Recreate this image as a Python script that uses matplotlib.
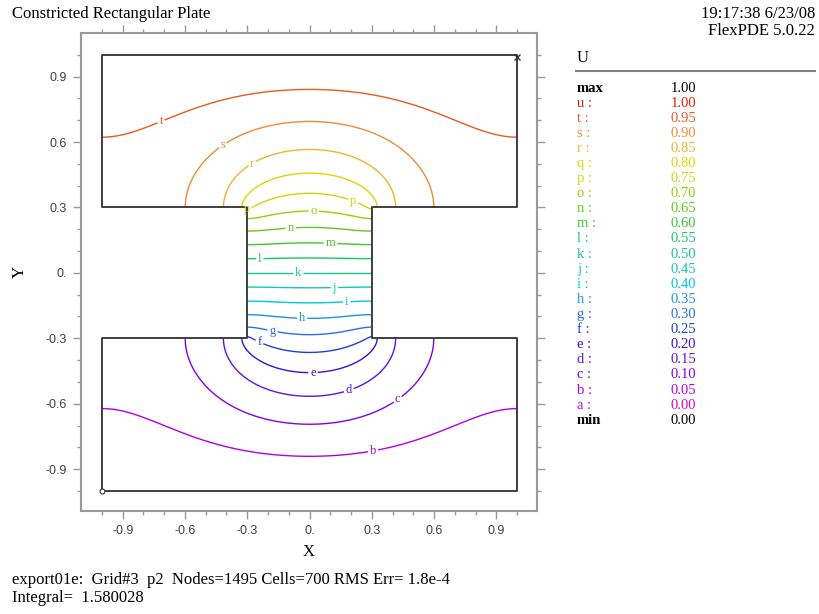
import numpy as np
import matplotlib
matplotlib.use('Agg')
import matplotlib.pyplot as plt
from matplotlib.ticker import FixedLocator, FixedFormatter

plt.rcParams['font.family'] = ['Liberation Serif', 'DejaVu Serif']

# contour table (legend order, top to bottom)
letters = ['u', 't', 's', 'r', 'q', 'p', 'o', 'n', 'm', 'l', 'k',
           'j', 'i', 'h', 'g', 'f', 'e', 'd', 'c', 'b', 'a']
values = [1.00, 0.95, 0.90, 0.85, 0.80, 0.75, 0.70, 0.65, 0.60, 0.55, 0.50,
          0.45, 0.40, 0.35, 0.30, 0.25, 0.20, 0.15, 0.10, 0.05, 0.00]
colors = ['#e61e00', '#eb5a1e', '#f08c32', '#f0b428', '#e6d200', '#c8dc00',
          '#96d200', '#64c81e', '#3cc832', '#14c864', '#14c88c',
          '#14c8b4', '#00c8dc', '#1496e6', '#286ef0', '#1e3ce6',
          '#3214dc', '#5a14e6', '#8200e6', '#b400e6', '#dc00dc']
u_max = 1.00
u_min = 0.00

# geometry: outer plate with a constricted neck
neck_half = 0.3
outline_x = [-1, 1, 1, 0.3, 0.3, 1, 1, -1, -1, -0.3, -0.3, -1, -1]
outline_y = [-1, -1, -0.3, -0.3, 0.3, 0.3, 1, 1, 0.3, 0.3, -0.3, -0.3, -1]
top_value = 1.0
bottom_value = 0.0

# where the letters sit on the contours
label_pos = {
    't': (-0.71, 0.683), 's': (-0.417, 0.583), 'r': (-0.272, 0.495),
    'q': (-0.31, 0.30), 'p': (0.205, 0.317), 'o': (0.02, 0.275),
    'n': (-0.09, 0.197), 'm': (0.10, 0.128), 'l': (-0.24, 0.064),
    'k': (-0.055, -0.005), 'j': (0.12, -0.078), 'i': (0.18, -0.138),
    'h': (-0.036, -0.216), 'g': (-0.18, -0.275), 'f': (-0.243, -0.32),
    'e': (0.017, -0.463), 'd': (0.19, -0.54), 'c': (0.427, -0.583),
    'b': (0.306, -0.817),
}

# solve Laplace(U)=0, U=1 on top, U=0 on bottom, natural BC elsewhere
n = 201
xs = np.linspace(-1, 1, n)
X, Y = np.meshgrid(xs, xs)


def in_domain(x, y):
    return (np.abs(y) >= neck_half - 1e-9) | (np.abs(x) <= neck_half + 1e-9)


node_in = in_domain(X, Y)
xc = 0.5 * (xs[:-1] + xs[1:])
XC, YC = np.meshgrid(xc, xc)
Cp = np.pad(in_domain(XC, YC).astype(float), 1)
WH = 0.5 * (Cp[:-1, 1:-1] + Cp[1:, 1:-1])
WV = 0.5 * (Cp[1:-1, :-1] + Cp[1:-1, 1:])
wE = np.zeros((n, n)); wW = np.zeros((n, n))
wN = np.zeros((n, n)); wS = np.zeros((n, n))
wE[:, :-1] = WH; wW[:, 1:] = WH
wN[:-1, :] = WV; wS[1:, :] = WV
wsum = wE + wW + wN + wS
wdiv = np.where(wsum > 0, wsum, 1.0)

free = node_in & (wsum > 0)
free[0, :] = False
free[-1, :] = False
J, I = np.indices((n, n))
red = free & ((I + J) % 2 == 0)
black = free & ((I + J) % 2 == 1)

U = bottom_value + (Y + 1) / 2 * (top_value - bottom_value)
U[0, :] = bottom_value
U[-1, :] = top_value
omega = 1.96
for it in range(2500):
    for m in (red, black):
        Up = np.pad(U, 1, mode='edge')
        gs = (wE * Up[1:-1, 2:] + wW * Up[1:-1, :-2]
              + wN * Up[2:, 1:-1] + wS * Up[:-2, 1:-1]) / wdiv
        U = np.where(m, U + omega * (gs - U), U)

Um = np.ma.array(U, mask=~node_in)

fig = plt.figure(figsize=(8.19, 6.14), dpi=100)
ax = fig.add_axes([81 / 819, 1 - 511 / 614, 456 / 819, 478 / 614])
ax.set_xlim(-1.101, 1.096)
ax.set_ylim(-1.092, 1.10)

# contours b..t (ascending)
lev = values[1:-1][::-1]
lev_colors = colors[1:-1][::-1]
lev_letters = letters[1:-1][::-1]
cs = ax.contour(X, Y, Um, levels=lev, colors=lev_colors, linewidths=1.0)
fmt = {cs.levels[k]: lev_letters[k] for k in range(len(lev))}
labs = ax.clabel(cs, fmt=fmt, inline=True, inline_spacing=2, fontsize=9,
                 manual=[label_pos[c] for c in lev_letters])
for t in cs.labelTexts:
    t.set_rotation(0)

ax.plot(outline_x, outline_y, color='#303030', lw=1.3)
ax.plot([1], [0.99], marker='x', ms=4, color='#303030', mew=1)
ax.plot([-1], [-1], marker='o', ms=3.5, mfc='white', mec='#303030', mew=0.8)

major = [-0.9, -0.6, -0.3, 0.0, 0.3, 0.6, 0.9]
minor = [-1.0, -0.8, -0.7, -0.5, -0.4, -0.2, -0.1, 0.1, 0.2, 0.4, 0.5, 0.7, 0.8, 1.0]
tick_labels = ['-0.9', '-0.6', '-0.3', '0.', '0.3', '0.6', '0.9']
for axis in (ax.xaxis, ax.yaxis):
    axis.set_major_locator(FixedLocator(major))
    axis.set_minor_locator(FixedLocator(minor))
    axis.set_major_formatter(FixedFormatter(tick_labels))
ax.tick_params(which='both', direction='out', color='#999999',
               top=True, right=True, labelcolor='#404040', labelsize=9, pad=4)
ax.tick_params(which='major', length=6, width=1)
ax.tick_params(which='minor', length=3, width=1)
for lab in ax.get_xticklabels() + ax.get_yticklabels():
    lab.set_family(['Liberation Sans', 'DejaVu Sans'])
for sp in ax.spines.values():
    sp.set_color('#999999')
    sp.set_linewidth(1.5)

fig.text(309 / 819, 1 - 552 / 614, 'X', ha='center', va='center', fontsize=12)
fig.text(20 / 819, 1 - 272 / 614, 'Y', ha='center', va='center', fontsize=12,
         rotation=90)

fig.text(12 / 819, 1 - 14 / 614, 'Constricted Rectangular Plate',
         va='center', fontsize=12)
fig.text(815 / 819, 1 - 14 / 614, '19:17:38 6/23/08', ha='right', va='center',
         fontsize=12)
fig.text(815 / 819, 1 - 31 / 614, 'FlexPDE 5.0.22', ha='right', va='center',
         fontsize=12)
fig.text(12 / 819, 1 - 580 / 614,
         'export01e:  Grid#3  p2  Nodes=1495 Cells=700 RMS Err= 1.8e-4',
         va='center', fontsize=12)
fig.text(12 / 819, 1 - 598 / 614, 'Integral=  1.580028', va='center',
         fontsize=12)

# legend table
fig.text(577 / 819, 1 - 58 / 614, 'U', va='center', fontsize=12)
fig.add_artist(plt.Line2D([576 / 819, 815 / 819], [1 - 71 / 614, 1 - 71 / 614],
                          color='#808080', lw=1.5))
row_h = 15.1
rows = [('max', u_max, 'black', 'bold')]
rows += [(c + ' :', v, col, 'normal') for c, v, col in zip(letters, values, colors)]
rows += [('min', u_min, 'black', 'bold')]
for k, (name, val, col, wt) in enumerate(rows):
    yy = 1 - (88 + k * row_h) / 614
    fig.text(577 / 819, yy, name, va='center', fontsize=10.5, color=col,
             fontweight=wt)
    fig.text(696 / 819, yy, '%.2f' % val, va='center', ha='right',
             fontsize=10.5, color=col)

fig.savefig('out.png', dpi=100)
